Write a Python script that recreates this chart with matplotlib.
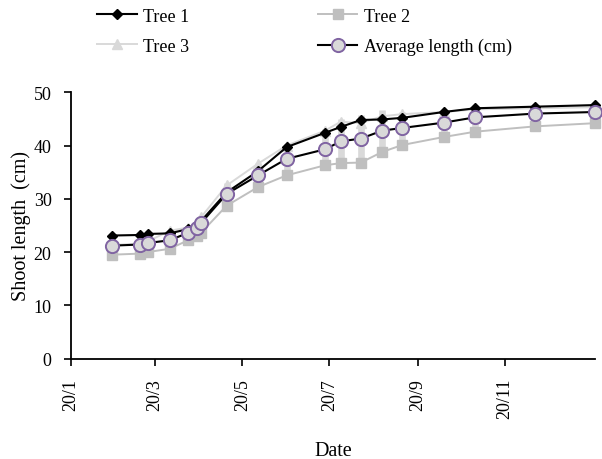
import matplotlib
matplotlib.use("Agg")
import matplotlib.pyplot as plt
import datetime as dt

plt.rcParams['font.family'] = ['Liberation Serif', 'DejaVu Serif']

dates = ["2007-02-18", "2007-03-09", "2007-03-15", "2007-03-30", "2007-04-12",
         "2007-04-18", "2007-04-21", "2007-05-09", "2007-05-31", "2007-06-20",
         "2007-07-17", "2007-07-28", "2007-08-11", "2007-08-26", "2007-09-09",
         "2007-10-08", "2007-10-30", "2007-12-11", "2008-01-22"]
tree1 = [23.1, 23.2, 23.4, 23.5, 24.3, 25.0, 25.8, 31.2, 35.2, 39.7,
         42.4, 43.5, 44.8, 44.9, 45.2, 46.3, 47.0, 47.3, 47.6]
tree2 = [19.5, 19.7, 20.0, 20.6, 22.2, 23.1, 23.6, 28.7, 32.2, 34.4,
         36.3, 36.7, 36.8, 38.8, 40.1, 41.6, 42.6, 43.6, 44.2]
tree3 = [21.3, 21.6, 22.0, 24.0, 24.6, 25.5, 26.5, 32.5, 36.6, 40.0,
         42.8, 44.5, 44.2, 45.5, 45.9, 46.3, 46.8, 47.0, 47.2]
average = [21.2, 21.4, 21.7, 22.2, 23.6, 24.5, 25.4, 30.9, 34.4, 37.5,
           39.3, 40.8, 41.3, 42.8, 43.3, 44.3, 45.3, 46.0, 46.3]
avg_err = [1.6, 1.7, 1.8, 1.5, 1.2, 1.2, 1.3, 2.0, 2.4, 2.8,
           3.8, 4.2, 4.4, 3.8, 3.0, 2.4, 2.2, 1.8, 1.6]
axis_start = "2007-01-20"
tick_dates = ["2007-01-20", "2007-03-20", "2007-05-20", "2007-07-20",
              "2007-09-20", "2007-11-20"]
tick_labels = ["20/1", "20/3", "20/5", "20/7", "20/9", "20/11"]
y_ticks = [0, 10, 20, 30, 40, 50]

x = [dt.datetime.strptime(d, "%Y-%m-%d") for d in dates]
xt = [dt.datetime.strptime(d, "%Y-%m-%d") for d in tick_dates]
x0 = dt.datetime.strptime(axis_start, "%Y-%m-%d")

fig = plt.figure(figsize=(6.02, 4.60), dpi=100)
ax = fig.add_axes([71/602, 1-359.5/460, (595-71)/602, (359.5-93.3)/460])

ax.errorbar(x, average, yerr=avg_err, fmt='none', ecolor='#d9d9d9',
            elinewidth=4.8, capsize=0, zorder=1)
l3, = ax.plot(x, tree3, color='#d9d9d9', lw=1.4, marker='^', ms=7,
              mfc='#d9d9d9', mec='#d9d9d9', zorder=2, clip_on=False)
l2, = ax.plot(x, tree2, color='#bfbfbf', lw=1.4, marker='s', ms=6.5,
              mfc='#bfbfbf', mec='#bfbfbf', zorder=3, clip_on=False)
l1, = ax.plot(x, tree1, color='black', lw=1.5, marker='D', ms=5.5,
              mfc='black', mec='black', zorder=4, clip_on=False)
l4, = ax.plot(x, average, color='black', lw=1.5, marker='o', ms=9.5,
              mfc='#d9d9d9', mec='#8064a2', mew=1.4, zorder=5, clip_on=False)

ax.set_xlim(x0, x[-1])
ax.set_ylim(0, 50)
ax.set_yticks(y_ticks)
ax.set_xticks(xt)
ax.set_xticklabels(tick_labels, rotation=90, fontsize=13)
ax.tick_params(axis='y', labelsize=13, direction='out', length=5, width=1.2, pad=9)
ax.tick_params(axis='x', direction='out', length=5, width=1.2, pad=9)
for s in ['top', 'right']:
    ax.spines[s].set_visible(False)
for s in ['left', 'bottom']:
    ax.spines[s].set_linewidth(1.3)

ax.set_ylabel("Shoot length  (cm)", fontsize=14.5, labelpad=2)
ax.set_xlabel("Date", fontsize=14.5, labelpad=16)

fig.legend([l1, l3, l2, l4], ["Tree 1", "Tree 3", "Tree 2", "Average length (cm)"],
           ncol=2, loc='upper left', bbox_to_anchor=(90/602, 0.997), frameon=False,
           fontsize=13, handlelength=2.2, columnspacing=7.1, labelspacing=0.72,
           handletextpad=0.35, borderaxespad=0.0)

fig.savefig("out.png", dpi=100)
